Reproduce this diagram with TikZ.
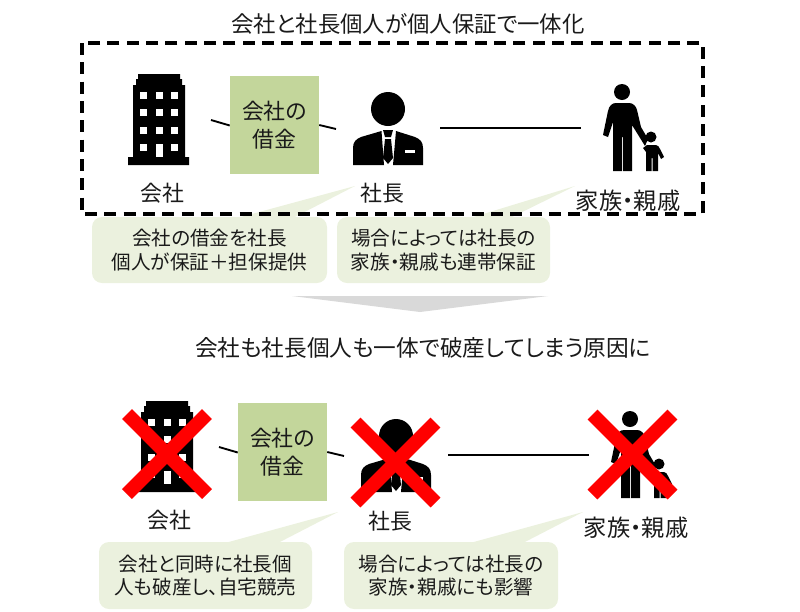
\documentclass[tikz,border=0pt]{standalone}
\usepackage{fontspec}
\setmainfont{Noto Sans CJK JP}[RawFeature=+palt]
\usetikzlibrary{positioning}

\definecolor{boxgreen}{HTML}{C3D69B}
\definecolor{notegreen}{HTML}{EBF1DE}
\definecolor{crossred}{HTML}{FF0000}
\definecolor{inkgray}{HTML}{1A1A1A}
\definecolor{arrowgray}{HTML}{D9D9D9}

\tikzset{
  titletext/.style={font=\fontsize{16.8pt}{20pt}\selectfont, text=inkgray},
  nametext/.style={font=\fontsize{16.4pt}{20pt}\selectfont, text=inkgray},
  familytext/.style={font=\fontsize{17.4pt}{20pt}\selectfont, text=inkgray},
  notetext/.style={font=\fontsize{14.7pt}{17.5pt}\selectfont, text=inkgray, align=center},
  debtbox/.style={fill=boxgreen, minimum width=66.75pt, minimum height=73.5pt, inner sep=0pt,
    align=center, font=\fontsize{16.4pt}{21pt}\selectfont, text=inkgray},
  notebox/.style={fill=notegreen, rounded corners=7.5pt, inner sep=0pt, align=center},
  tieline/.style={line width=1.4pt, black},
  crossline/.style={line width=10.5pt, crossred}
}

% Icons
\newcommand{\buildingicon}{
  \fill[black] (128,165) -- (128,157) -- (133,157) -- (133,85) -- (136,85) -- (136,79) -- (138,79)
    -- (138,74) -- (180,74) -- (180,79) -- (182,79) -- (182,85) -- (185,85) -- (185,157)
    -- (189,157) -- (189,165) -- cycle;
  \foreach \wx in {140,156,171} {
    \foreach \wy in {92,109,127,144} {
      \fill[white] (\wx,\wy) rectangle ++(7,7);
    }
  }
  \fill[white] (156,144) rectangle (163,157);
}
\newcommand{\bossicon}{
  \fill[black] (388,109) circle (17);
  \fill[black] (353,165) -- (353,148) .. controls (353,142) and (356,139) .. (361,137) -- (381.5,131) -- (384,165) -- cycle;
  \fill[black] (423,165) -- (423,148) .. controls (423,142) and (420,139) .. (415,137) -- (396,131) -- (393,165) -- cycle;
  \fill[white] (405,150) rectangle (415,153);
  \fill[black] (383,130) -- (393,130) -- (391,137) -- (385,137) -- cycle;
  \fill[black] (385,139) -- (391,139) -- (393,158) -- (388,164) -- (383,158) -- cycle;
}
\newcommand{\familyicon}{
  \fill[black] (622,92) circle (8);
  \fill[black] (613,171) -- (613,122) -- (608,137) -- (603,135) -- (608,111)
    .. controls (609,106) and (612,103) .. (616,103) -- (629,103)
    .. controls (633,103) and (636,106) .. (637,110) -- (641,127) -- (648,139) -- (645,146)
    -- (632,125) -- (632,171) -- (623,171) -- (623,137) -- (622,137) -- (622,171) -- cycle;
  \fill[black] (651,137) circle (5.5);
  \fill[black] (646,171) -- (646,152) -- (643,148) -- (647,145) -- (656,145)
    .. controls (658,145) and (659,147) .. (660,149) -- (664,157) -- (661,159) -- (658,153)
    -- (658,171) -- (652.5,171) -- (652.5,158) -- (651.5,158) -- (651.5,171) -- cycle;
}

\begin{document}
\begin{tikzpicture}[x=0.75pt, y=-0.75pt]
  \useasboundingbox (0,0) rectangle (800,611);

  % Top panel
  \node[titletext] (toptitle) at (408,24) {会社と社長個人が個人保証で一体化};
  \buildingicon
  \bossicon
  \familyicon

  \node[debtbox] (topdebt) at (274.5,125) {会社の\\借金};
  \node[nametext] (topcompany) at (162,193) {会社};
  \node[nametext] (topboss) at (382,193) {社長};
  \node[familytext] (topfamily) at (628,201) {家族・親戚};

  \coordinate (topa) at (211,120);
  \coordinate (topb) at (336,129);
  \coordinate (topc) at (440,128);
  \coordinate (topd) at (581,128);
  \draw[tieline] (topa) -- (topdebt.west |- 0,125.5);
  \draw[tieline] (topdebt.east |- 0,125) -- (topb);
  \draw[tieline] (topc) -- (topd);

  % Notes
  \coordinate (toptipa) at (355,186);
  \coordinate (toptipb) at (575,186);
  \fill[notegreen] (237,218) -- (toptipa) -- (293,218) -- cycle;
  \fill[notegreen] (470,218) -- (toptipb) -- (510,218) -- cycle;
  \node[notebox, minimum width=176.25pt, minimum height=49.5pt] (topnotea) at (209.5,250) {};
  \node[notebox, minimum width=159.75pt, minimum height=49.5pt] (topnoteb) at (443.5,250) {};
  \node[notetext] (topnoteatext) at (topnotea) {会社の借金を社長\\個人が保証＋担保提供};
  \node[notetext] (topnotebtext) at (topnoteb) {場合によっては社長の\\家族・親戚も連帯保証};

  % Dashed frame
  \draw[line width=2.5pt, dash pattern=on 9pt off 5.5pt] (82,43) rectangle (703,214);

  % Arrow down
  \fill[arrowgray] (292,296) -- (548,296) -- (420,312) -- cycle;

  % Bottom panel
  \node[titletext, font=\fontsize{17pt}{20pt}\selectfont] (lowtitle) at (423,348) {会社も社長個人も一体で破産してしまう原因に};
  \begin{scope}[shift={(8,327)}]
    \buildingicon
    \bossicon
    \familyicon
  \end{scope}

  \node[debtbox] (lowdebt) at (282.5,452) {会社の\\借金};
  \node[nametext] (lowcompany) at (169,520) {会社};
  \node[nametext] (lowboss) at (390,521) {社長};
  \node[familytext] (lowfamily) at (636,528) {家族・親戚};

  \coordinate (lowa) at (219,447);
  \coordinate (lowb) at (344,456);
  \coordinate (lowc) at (448,455);
  \coordinate (lowd) at (589,455);
  \draw[tieline] (lowa) -- (lowdebt.west |- 0,452.5);
  \draw[tieline] (lowdebt.east |- 0,452) -- (lowb);
  \draw[tieline] (lowc) -- (lowd);

  % Crosses
  \draw[crossline] (127,414) -- (207,494);
  \draw[crossline] (127,494) -- (207,414);
  \draw[crossline] (355.5,422.5) -- (435.5,502.5);
  \draw[crossline] (355.5,502.5) -- (435.5,422.5);
  \draw[crossline] (592.5,414.5) -- (672.5,494.5);
  \draw[crossline] (592.5,494.5) -- (672.5,414.5);

  % Notes
  \coordinate (lowtipa) at (338,512);
  \coordinate (lowtipb) at (583,512);
  \fill[notegreen] (225,543) -- (lowtipa) -- (278,543) -- cycle;
  \fill[notegreen] (470,543) -- (lowtipb) -- (523,543) -- cycle;
  \node[notebox, minimum width=159.75pt, minimum height=50.25pt] (lownotea) at (205.5,575.5) {};
  \node[notebox, minimum width=160.5pt, minimum height=50.25pt] (lownoteb) at (451,575.5) {};
  \node[notetext] (lownoteatext) at (lownotea) {会社と同時に社長個\\人も破産し、自宅競売};
  \node[notetext] (lownotebtext) at (lownoteb) {場合によっては社長の\\家族・親戚にも影響};
\end{tikzpicture}
\end{document}
